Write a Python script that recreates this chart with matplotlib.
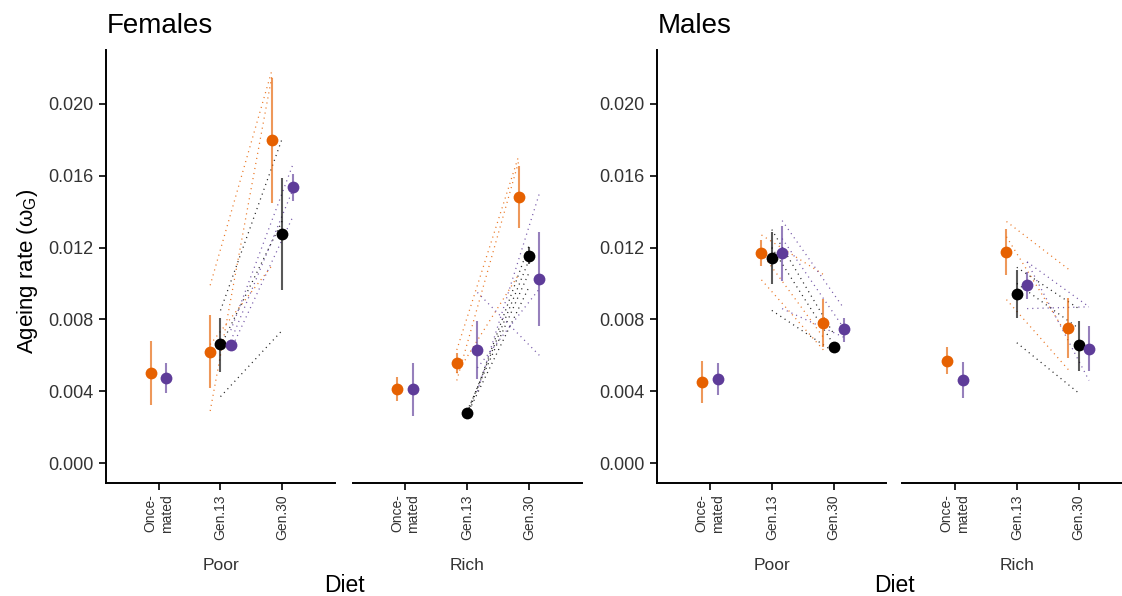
import numpy as np
import matplotlib
matplotlib.use("Agg")
import matplotlib.pyplot as plt

plt.rcParams['font.family'] = ['Liberation Sans', 'DejaVu Sans']
plt.rcParams['mathtext.fontset'] = 'custom'
plt.rcParams['mathtext.rm'] = 'Liberation Sans'
plt.rcParams['mathtext.it'] = 'Liberation Sans:italic'

nan = np.nan
categories = ['Once-\nmated', 'Gen.13', 'Gen.30']
series = ['S1', 'S2', 'S3']
colors = {'S1': '#E66101', 'S2': '#000000', 'S3': '#5E3C99'}
yticks = [0.000, 0.004, 0.008, 0.012, 0.016, 0.020]

# ---- Females, Poor ----
fp_est = {'S1': [0.00503, 0.00620, 0.01798], 'S2': [nan, 0.00661, 0.01276], 'S3': [0.00475, 0.00657, 0.01538]}
fp_lo = {'S1': [0.00323, 0.00416, 0.01450], 'S2': [nan, 0.00509, 0.00964], 'S3': [0.00388, 0.00635, 0.01461]}
fp_hi = {'S1': [0.00680, 0.00823, 0.02143], 'S2': [nan, 0.00810, 0.01586], 'S3': [0.00559, 0.00680, 0.01610]}
fp_line_start = {'S1': [0.0099, 0.0029, 0.0066], 'S2': [0.0085, 0.0037, 0.0065], 'S3': [0.0074, 0.0063, 0.0068]}
fp_line_end = {'S1': [0.0219, 0.0216, 0.0110], 'S2': [0.0181, 0.0074, 0.0135], 'S3': [0.0166, 0.0137, 0.0152]}

# ---- Females, Rich ----
fr_est = {'S1': [0.00412, 0.00559, 0.01480], 'S2': [nan, 0.00277, 0.01153], 'S3': [0.00412, 0.00630, 0.01025]}
fr_lo = {'S1': [0.00347, 0.00500, 0.01307], 'S2': [nan, 0.00265, 0.01109], 'S3': [0.00264, 0.00466, 0.00763]}
fr_hi = {'S1': [0.00477, 0.00615, 0.01655], 'S2': [nan, 0.00290, 0.01205], 'S3': [0.00559, 0.00793, 0.01285]}
fr_line_start = {'S1': [0.0063, 0.0046, 0.0050], 'S2': [0.0026, 0.0028, 0.0029, 0.0027], 'S3': [0.0095, 0.0040, 0.0053]}
fr_line_end = {'S1': [0.0171, 0.0168, 0.0105], 'S2': [0.0121, 0.0113, 0.0106, 0.0098], 'S3': [0.0060, 0.0150, 0.0097]}

# ---- Males, Poor ----
mp_est = {'S1': [0.00450, 0.01172, 0.00780], 'S2': [nan, 0.01142, 0.00646], 'S3': [0.00470, 0.01168, 0.00748]}
mp_lo = {'S1': [0.00332, 0.01097, 0.00648], 'S2': [nan, 0.00997, 0.00625], 'S3': [0.00379, 0.01016, 0.00676]}
mp_hi = {'S1': [0.00568, 0.01242, 0.00912], 'S2': [nan, 0.01287, 0.00668], 'S3': [0.00559, 0.01320, 0.00806]}
mp_line_start = {'S1': [0.0127, 0.0117, 0.0102], 'S2': [0.0130, 0.0120, 0.0085], 'S3': [0.0135, 0.0125, 0.0086]}
mp_line_end = {'S1': [0.0105, 0.0070, 0.0063], 'S2': [0.0072, 0.0066, 0.0062], 'S3': [0.0086, 0.0075, 0.0070]}

# ---- Males, Rich ----
mr_est = {'S1': [0.00570, 0.01175, 0.00752], 'S2': [nan, 0.00941, 0.00656], 'S3': [0.00462, 0.00990, 0.00637]}
mr_lo = {'S1': [0.00494, 0.01046, 0.00583], 'S2': [nan, 0.00810, 0.00513], 'S3': [0.00360, 0.00915, 0.00513]}
mr_hi = {'S1': [0.00645, 0.01305, 0.00921], 'S2': [nan, 0.01075, 0.00791], 'S3': [0.00563, 0.01062, 0.00763]}
mr_line_start = {'S1': [0.01345, 0.0126, 0.0091], 'S2': [0.0109, 0.0100, 0.0067], 'S3': [0.0112, 0.0112, 0.0086]}
mr_line_end = {'S1': [0.0108, 0.0070, 0.0052], 'S2': [0.0086, 0.0075, 0.0039], 'S3': [0.0087, 0.0046, 0.0087]}

panels = [
    ('Poor', fp_est, fp_lo, fp_hi, fp_line_start, fp_line_end),
    ('Rich', fr_est, fr_lo, fr_hi, fr_line_start, fr_line_end),
    ('Poor', mp_est, mp_lo, mp_hi, mp_line_start, mp_line_end),
    ('Rich', mr_est, mr_lo, mr_hi, mr_line_start, mr_line_end),
]

W, H = 1122, 596
fig = plt.figure(figsize=(W / 100, H / 100), dpi=100)
lefts_px = [106, 352.6, 657.3, 902.3]
width_px = 229
bottom = (H - 483) / H
height = 433 / H

off3 = {'S1': -1 / 6, 'S2': 0.0, 'S3': 1 / 6}
off2 = {'S1': -0.125, 'S3': 0.125}
text_col = '#333333'

for i, (diet, est, lo, hi, ls, le) in enumerate(panels):
    ax = fig.add_axes([lefts_px[i] / W, bottom, width_px / W, height])
    ax.set_xlim(0.15, 3.85)
    ax.set_ylim(-0.00111, 0.0230)
    for sp in ['top', 'right']:
        ax.spines[sp].set_visible(False)
    ax.spines['bottom'].set_linewidth(1.4)
    ax.spines['left'].set_linewidth(1.4)
    # dotted lines between Gen.13 and Gen.30
    for s in series:
        for y0, y1 in zip(ls[s], le[s]):
            ax.plot([2 + off3[s], 3 + off3[s]], [y0, y1], color=colors[s], lw=0.9,
                    linestyle=(0, (0.9, 3.2)), alpha=0.85, zorder=2)
    # error bars and points
    for s in series:
        for j in range(3):
            if np.isnan(est[s][j]):
                continue
            x = (j + 1) + (off2[s] if j == 0 else off3[s])
            ax.vlines(x, lo[s][j], hi[s][j], color=colors[s], lw=1.5, alpha=0.65, zorder=3)
            ax.plot([x], [est[s][j]], 'o', color=colors[s], ms=8.5, mec='none', zorder=4)
    ax.set_xticks([1, 2, 3])
    ax.set_xticklabels(categories, rotation=90, fontsize=10, color=text_col,
                       ha='center', va='top', multialignment='right')
    ax.tick_params(axis='x', length=5, width=1.2, pad=3)
    if diet == 'Poor':
        ax.set_yticks(yticks)
        ax.set_yticklabels(['%.3f' % v for v in yticks], fontsize=13, color=text_col)
        ax.tick_params(axis='y', length=5, width=1.2, pad=4)
    else:
        ax.spines['left'].set_visible(False)
        ax.tick_params(axis='y', left=False, labelleft=False)
    cx = (lefts_px[i] + width_px / 2) / W
    fig.text(cx, 1 - 570 / H, diet, fontsize=12.5, color=text_col, ha='center', va='baseline')

fig.text(107 / W, 1 - 33 / H, 'Females', fontsize=20, ha='left', va='baseline')
fig.text(658 / W, 1 - 33 / H, 'Males', fontsize=20, ha='left', va='baseline')
fig.text(344 / W, 1 - 592 / H, 'Diet', fontsize=16.5, ha='center', va='baseline')
fig.text(894 / W, 1 - 592 / H, 'Diet', fontsize=16.5, ha='center', va='baseline')
fig.text(28 / W, 1 - 271 / H, r'Ageing rate ($\mathrm{\omega}_{\mathrm{G}}$)', fontsize=16,
         rotation=90, ha='center', va='center')

fig.savefig('out.png', dpi=100)
